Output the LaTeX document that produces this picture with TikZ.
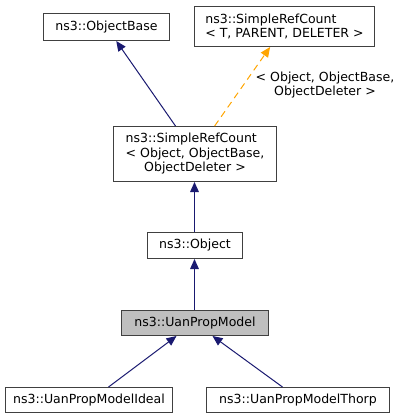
\documentclass[tikz,border=0pt]{standalone}
\usepackage{fontspec}
\setmainfont{DejaVu Sans}
\usetikzlibrary{arrows.meta, calc}
\definecolor{edgeblue}{RGB}{25,25,112}
\definecolor{edgeorange}{RGB}{255,165,0}
\definecolor{boxgrey}{RGB}{191,191,191}
\definecolor{boxline}{RGB}{64,64,64}

\begin{document}
\begin{tikzpicture}[x=0.75pt, y=-0.75pt,
    classbox/.style={draw=boxline, line width=0.75pt, fill=white, inner sep=0pt,
        font=\fontsize{9.4}{10.9}\selectfont, align=center},
    inherit/.style={edgeblue, line width=0.75pt, -{Triangle[length=7.5pt, width=6.5pt]}},
    tmplinst/.style={edgeorange, line width=0.75pt, dash pattern=on 5pt off 3.5pt,
        -{Triangle[length=7.5pt, width=6.5pt]}}]
    \useasboundingbox (0,0) rectangle (401,419);

    % Base classes
    \node[classbox, minimum width=94.5pt, minimum height=20.25pt] (objbase) at (106.5, 27) {ns3::ObjectBase};
    \node[classbox, align=left, minimum width=135pt, minimum height=30pt] (srctmpl) at (284.5, 26.5)
        {ns3::SimpleRefCount\\< T, PARENT, DELETER >};

    % Template instance
    \node[classbox, minimum width=122.25pt, minimum height=41.25pt] (srcobj) at (195, 154)
        {\rlap{ns3::SimpleRefCount}\phantom{< Object, ObjectBase,}\\< Object, ObjectBase,\\ObjectDeleter >};
    \node[font=\fontsize{9.4}{10.9}\selectfont, align=center] (instlbl) at (325, 85)
        {< Object, ObjectBase,\\ObjectDeleter >};

    % Object and the documented class
    \node[classbox, minimum width=71.25pt, minimum height=19.5pt] (object) at (195, 245.5) {ns3::Object};
    \node[classbox, fill=boxgrey, minimum width=110.25pt, minimum height=18.75pt] (uanprop) at (195, 323)
        {ns3::UanPropModel};

    % Derived classes
    \node[classbox, minimum width=125.25pt, minimum height=18.75pt] (ideal) at (89, 400) {ns3::UanPropModelIdeal};
    \node[classbox, minimum width=137.25pt, minimum height=18.75pt] (thorp) at (298, 400) {ns3::UanPropModelThorp};

    % Inheritance
    \draw[inherit] (srcobj) -- (objbase);
    \draw[tmplinst] (srcobj) -- (srctmpl);
    \draw[inherit] ($(object.north)+(-0.5,0)$) -- ($(srcobj.south)+(-0.5,0)$);
    \draw[inherit] ($(uanprop.north)+(-0.5,0)$) -- ($(object.south)+(-0.5,0)$);
    \draw[inherit] ($(ideal.north)+(19.5,0)$) -- ($(uanprop.south)+(-18.5,0)$);
    \draw[inherit] ($(thorp.north)+(-15.5,0)$) -- ($(uanprop.south)+(17.5,0)$);
\end{tikzpicture}
\end{document}
